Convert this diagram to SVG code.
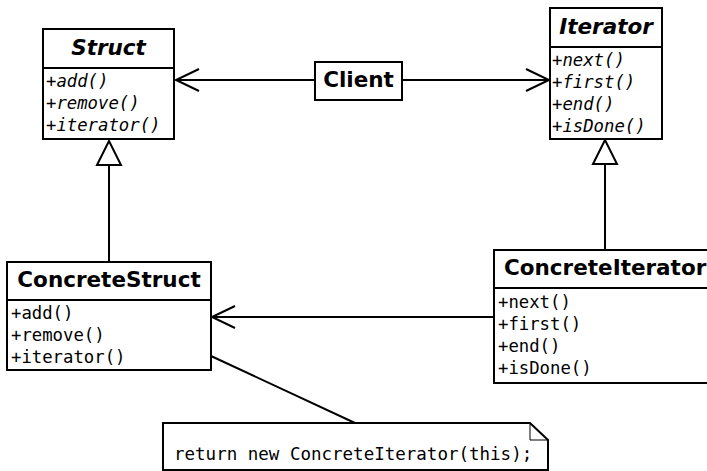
<svg xmlns="http://www.w3.org/2000/svg" width="707" height="471" viewBox="0 0 707 471">
<style>
.box{fill:#fff;stroke:#000;stroke-width:2}
.div{stroke:#000;stroke-width:2}
.title{font-family:"DejaVu Sans",sans-serif;font-weight:bold;font-size:21.5px;fill:#000}
.abs{font-style:italic}
.m{font-family:"DejaVu Sans Mono",monospace;font-size:17.3px;fill:#000}
.mi{font-style:italic}
.line{fill:none;stroke:#000;stroke-width:2}
</style>
<defs>
<marker id="open" markerUnits="userSpaceOnUse" viewBox="-27 -15 30 30" refX="0" refY="0" markerWidth="30" markerHeight="30" orient="auto" overflow="visible">
<path d="M-23,-11 L0,0 L-23,11" fill="none" stroke="#000" stroke-width="2"/>
</marker>
<marker id="tri" markerUnits="userSpaceOnUse" viewBox="-27 -15 30 30" refX="0" refY="0" markerWidth="30" markerHeight="30" orient="auto" overflow="visible">
<path d="M-24,-12 L0,0 L-24,12 Z" fill="#fff" stroke="#000" stroke-width="2"/>
</marker>
</defs>
<g id="connectors">
<line class="line" x1="315" y1="80" x2="176" y2="80" marker-end="url(#open)"/>
<line class="line" x1="402" y1="80" x2="549" y2="80" marker-end="url(#open)"/>
<line class="line" x1="109" y1="262" x2="109" y2="141" marker-end="url(#tri)"/>
<line class="line" x1="605" y1="250" x2="605" y2="140" marker-end="url(#tri)"/>
<line class="line" x1="494" y1="317" x2="212" y2="317" marker-end="url(#open)"/>
<line class="line" x1="211" y1="356" x2="355" y2="423"/>
</g>
<g id="Struct">
<rect class="box" x="43" y="29" width="131" height="110"/>
<line class="div" x1="43" y1="68" x2="174" y2="68"/>
<text class="title abs" x="108.5" y="55" text-anchor="middle">Struct</text>
<text class="m mi" x="46" y="87">+add()</text>
<text class="m mi" x="46" y="109">+remove()</text>
<text class="m mi" x="46" y="131">+iterator()</text>
</g>
<g id="Iterator">
<rect class="box" x="550" y="8" width="112" height="131"/>
<line class="div" x1="550" y1="47" x2="662" y2="47"/>
<text class="title abs" x="606" y="34" text-anchor="middle">Iterator</text>
<text class="m mi" x="552" y="66">+next()</text>
<text class="m mi" x="552" y="88">+first()</text>
<text class="m mi" x="552" y="110">+end()</text>
<text class="m mi" x="552" y="132">+isDone()</text>
</g>
<g id="Client">
<rect class="box" x="315" y="62" width="87" height="38"/>
<text class="title" x="358.5" y="87" text-anchor="middle">Client</text>
</g>
<g id="ConcreteStruct">
<rect class="box" x="7" y="262" width="204" height="108"/>
<line class="div" x1="7" y1="300" x2="211" y2="300"/>
<text class="title" x="109" y="287" text-anchor="middle">ConcreteStruct</text>
<text class="m" x="11" y="319">+add()</text>
<text class="m" x="11" y="341">+remove()</text>
<text class="m" x="11" y="363">+iterator()</text>
</g>
<g id="ConcreteIterator">
<rect class="box" x="494" y="250" width="230" height="133"/>
<line class="div" x1="494" y1="288" x2="724" y2="288"/>
<text class="title" x="504" y="275">ConcreteIterator</text>
<text class="m" x="498" y="308">+next()</text>
<text class="m" x="498" y="330">+first()</text>
<text class="m" x="498" y="352">+end()</text>
<text class="m" x="498" y="374">+isDone()</text>
</g>
<g id="Note">
<path d="M163,423 L530,423 L548,440 L548,470 L163,470 Z" fill="#fff" stroke="#000" stroke-width="2"/>
<path d="M530,423 L530,440 L548,440" fill="none" stroke="#000" stroke-width="1"/>
<text class="m" x="174" y="460" style="font-size:17.5px">return new ConcreteIterator(this);</text>
</g>
</svg>
